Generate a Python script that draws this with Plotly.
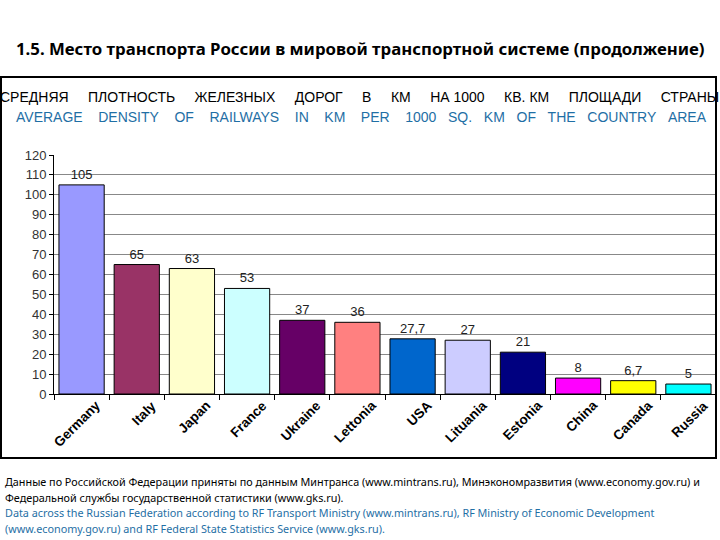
import plotly.graph_objects as go

# data
countries = ["Germany", "Italy", "Japan", "France", "Ukraine", "Lettonia",
             "USA", "Lituania", "Estonia", "China", "Canada", "Russia"]
density = [105, 65, 63, 53, 37, 36, 27.7, 27, 21, 8, 6.7, 5]
value_labels = ["105", "65", "63", "53", "37", "36", "27,7", "27", "21", "8", "6,7", "5"]
bar_colors = ["#9999FF", "#993366", "#FFFFCC", "#CCFFFF", "#660066", "#FF8080",
              "#0066CC", "#CCCCFF", "#000080", "#FF00FF", "#FFFF00", "#00FFFF"]

page_title = "1.5. Место транспорта России в мировой транспортной системе (продолжение)"
title_ru = ["СРЕДНЯЯ", "ПЛОТНОСТЬ", "ЖЕЛЕЗНЫХ", "ДОРОГ", "В", "КМ", "НА 1000", "КВ. КМ",
            "ПЛОЩАДИ", "СТРАНЫ"]
title_en = ["AVERAGE", "DENSITY", "OF", "RAILWAYS", "IN", "KM", "PER", "1000", "SQ.", "KM",
            "OF", "THE", "COUNTRY", "AREA"]
note_ru = ["Данные по Российской Федерации приняты по данным Минтранса (www.mintrans.ru), Минэкономразвития (www.economy.gov.ru) и",
           "Федеральной службы государственной статистики (www.gks.ru)."]
note_en = ["Data across the Russian Federation according to RF Transport Ministry (www.mintrans.ru), RF Ministry of Economic Development",
           "(www.economy.gov.ru) and RF Federal State Statistics Service (www.gks.ru)."]

fig = go.Figure(go.Bar(
    x=countries, y=density,
    marker=dict(color=bar_colors, line=dict(color="black", width=1)),
    text=value_labels, textposition="outside", cliponaxis=False,
    textfont=dict(family="Liberation Sans", size=13, color="#222"),
))

# plot area is 54..716 px wide, 155..394 px high
L, R, T, B = 54, 716, 155, 394

def py(p):
    return (B - p) / float(B - T)

def px_(p):
    return (p - L) / float(R - L)

nb = "\u00a0"
ru_line = (nb * 5).join(title_ru)
en_line = ""
for i, w in enumerate(title_en):
    en_line += w
    if i < len(title_en) - 1:
        en_line += nb * (4 if i < 7 else 3)

ann = [
    dict(text="<b>" + page_title + "</b>", x=px_(360), y=py(48),
         font=dict(family="Noto Sans", size=16.8, color="black"), xanchor="center"),
    dict(text=ru_line, x=px_(359), y=py(97),
         font=dict(family="Liberation Sans", size=14, color="black"), xanchor="center"),
    dict(text=en_line, x=px_(361), y=py(117),
         font=dict(family="Liberation Sans", size=14, color="#1F6FA5"), xanchor="center"),
]
for i, line in enumerate(note_ru):
    ann.append(dict(text=line, x=px_(3), y=py(481 + 16 * i), xanchor="left",
                    font=dict(family="Noto Sans", size=10.8, color="black")))
for i, line in enumerate(note_en):
    ann.append(dict(text=line, x=px_(3), y=py(512 + 16 * i), xanchor="left",
                    font=dict(family="Noto Sans", size=10.8, color="#1F6FA5")))
for a in ann:
    a.update(xref="paper", yref="paper", showarrow=False, yanchor="middle")

# rotated category labels, end of the text sits right of the bar centre (Excel style)
for c in countries:
    ann.append(dict(text="<b>" + c + "</b>", x=c, y=0, xref="x", yref="y",
                    showarrow=False, textangle=-45, xanchor="right", yanchor="top",
                    xshift=25, yshift=-1,
                    font=dict(family="Liberation Sans", size=13.5, color="black")))

fig.update_layout(
    width=720, height=540,
    margin=dict(l=L, r=720 - R, t=T, b=540 - B, autoexpand=False),
    paper_bgcolor="white", plot_bgcolor="white",
    bargap=0.18, showlegend=False,
    annotations=ann,
    shapes=[dict(type="rect", xref="paper", yref="paper", layer="above",
                 x0=px_(1), x1=px_(716), y0=py(458), y1=py(77),
                 line=dict(color="black", width=2), fillcolor="rgba(0,0,0,0)")],
)
fig.update_xaxes(
    range=[-0.5, len(countries) - 0.5],
    ticks="outside", tickson="boundaries", ticklen=5, tickcolor="black",
    showline=True, linecolor="black", showticklabels=False, automargin=False,
)
fig.update_yaxes(
    range=[0, 120], dtick=10, ticks="outside", ticklen=4, tickcolor="black",
    showline=True, linecolor="black", mirror=False, automargin=False,
    showgrid=True, gridcolor="#888", gridwidth=1,
    tickfont=dict(family="Liberation Sans", size=13, color="#333"),
)

fig.write_html("out.html", config={"displayModeBar": False},
               post_script="document.body.style.margin='0';")
